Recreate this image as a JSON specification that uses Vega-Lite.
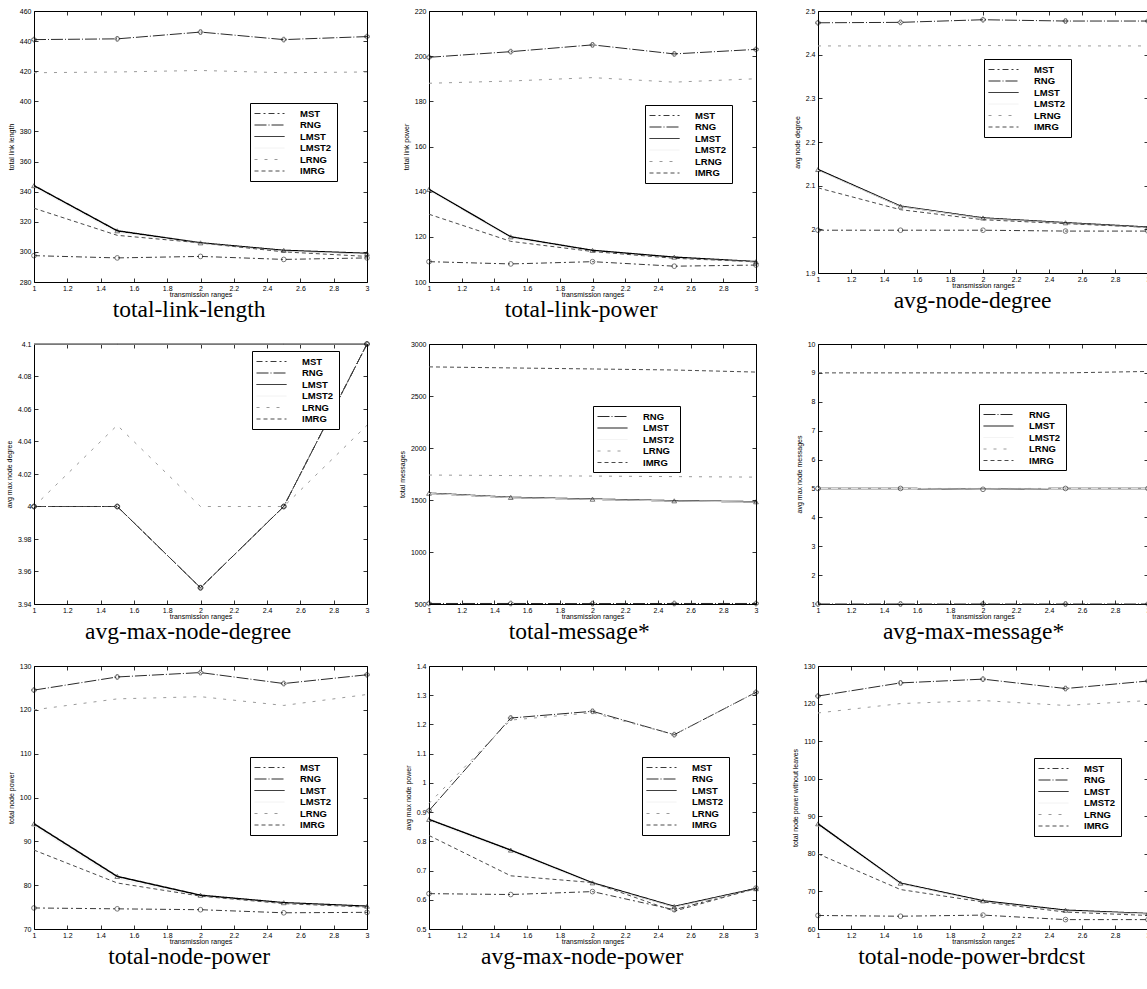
{
"$schema":"https://vega.github.io/schema/vega-lite/v6.json",
"background":"white",
"padding":{"left":4,"top":6,"right":0,"bottom":0},
"config":{
 "font":"Liberation Sans",
 "view":{"stroke":"black","strokeWidth":1},
 "axis":{"grid":false,"domain":false,"tickColor":"black","tickSize":-4,"tickWidth":0.8,"labelFontSize":7,"labelColor":"black","titleFontSize":7,"titleFontWeight":"normal","titleColor":"black","labelPadding":7,"labelOverlap":false,"labelFlush":false,"labelBound":false},
 "axisX":{"titlePadding":-1,"labelPadding":6},
 "axisY":{"titlePadding":5},
 "legend":{"orient":"none","strokeColor":"black","fillColor":"white","padding":5,"labelFont":"Liberation Sans","labelFontSize":9.5,"labelFontWeight":"bold","labelColor":"black","symbolType":"M-1.2,0H4.8","symbolSize":100,"symbolStrokeWidth":1,"rowPadding":1.5,"labelOffset":34,"cornerRadius":0},
 "title":{"orient":"bottom","font":"Liberation Serif","fontSize":23.5,"fontWeight":"normal","color":"black","offset":1,"anchor":"middle","frame":"bounds"}
},
"datasets":{
"p1":[
{"series":"MST","x":1,"y":297.5},{"series":"MST","x":1.5,"y":296},{"series":"MST","x":2,"y":297},{"series":"MST","x":2.5,"y":295},{"series":"MST","x":3,"y":296},
{"series":"RNG","x":1,"y":441},{"series":"RNG","x":1.5,"y":441.5},{"series":"RNG","x":2,"y":446},{"series":"RNG","x":2.5,"y":441},{"series":"RNG","x":3,"y":443},
{"series":"LMST","x":1,"y":344},{"series":"LMST","x":1.5,"y":314},{"series":"LMST","x":2,"y":306},{"series":"LMST","x":2.5,"y":301},{"series":"LMST","x":3,"y":299},
{"series":"LMST2","x":1,"y":343},{"series":"LMST2","x":1.5,"y":313},{"series":"LMST2","x":2,"y":305.5},{"series":"LMST2","x":2.5,"y":300.5},{"series":"LMST2","x":3,"y":298.5},
{"series":"LRNG","x":1,"y":419},{"series":"LRNG","x":1.5,"y":419.5},{"series":"LRNG","x":2,"y":420.5},{"series":"LRNG","x":2.5,"y":419},{"series":"LRNG","x":3,"y":419.5},
{"series":"IMRG","x":1,"y":329},{"series":"IMRG","x":1.5,"y":311},{"series":"IMRG","x":2,"y":306},{"series":"IMRG","x":2.5,"y":300},{"series":"IMRG","x":3,"y":297}
],
"p2":[
{"series":"MST","x":1,"y":109},{"series":"MST","x":1.5,"y":108},{"series":"MST","x":2,"y":109},{"series":"MST","x":2.5,"y":107},{"series":"MST","x":3,"y":107.5},
{"series":"RNG","x":1,"y":199.5},{"series":"RNG","x":1.5,"y":202},{"series":"RNG","x":2,"y":205},{"series":"RNG","x":2.5,"y":201},{"series":"RNG","x":3,"y":203},
{"series":"LMST","x":1,"y":141},{"series":"LMST","x":1.5,"y":120},{"series":"LMST","x":2,"y":114},{"series":"LMST","x":2.5,"y":111},{"series":"LMST","x":3,"y":109},
{"series":"LMST2","x":1,"y":140.5},{"series":"LMST2","x":1.5,"y":119.5},{"series":"LMST2","x":2,"y":113.5},{"series":"LMST2","x":2.5,"y":110.5},{"series":"LMST2","x":3,"y":108.8},
{"series":"LRNG","x":1,"y":188},{"series":"LRNG","x":1.5,"y":189},{"series":"LRNG","x":2,"y":190.5},{"series":"LRNG","x":2.5,"y":188.5},{"series":"LRNG","x":3,"y":190},
{"series":"IMRG","x":1,"y":130},{"series":"IMRG","x":1.5,"y":118},{"series":"IMRG","x":2,"y":113.5},{"series":"IMRG","x":2.5,"y":110.5},{"series":"IMRG","x":3,"y":109}
],
"p3":[
{"series":"MST","x":1,"y":1.998},{"series":"MST","x":1.5,"y":1.998},{"series":"MST","x":2,"y":1.998},{"series":"MST","x":2.5,"y":1.996},{"series":"MST","x":3,"y":1.996},
{"series":"RNG","x":1,"y":2.473},{"series":"RNG","x":1.5,"y":2.474},{"series":"RNG","x":2,"y":2.48},{"series":"RNG","x":2.5,"y":2.477},{"series":"RNG","x":3,"y":2.477},
{"series":"LMST","x":1,"y":2.137},{"series":"LMST","x":1.5,"y":2.053},{"series":"LMST","x":2,"y":2.026},{"series":"LMST","x":2.5,"y":2.015},{"series":"LMST","x":3,"y":2.005},
{"series":"LMST2","x":1,"y":2.135},{"series":"LMST2","x":1.5,"y":2.052},{"series":"LMST2","x":2,"y":2.025},{"series":"LMST2","x":2.5,"y":2.014},{"series":"LMST2","x":3,"y":2.004},
{"series":"LRNG","x":1,"y":2.42},{"series":"LRNG","x":1.5,"y":2.42},{"series":"LRNG","x":2,"y":2.421},{"series":"LRNG","x":2.5,"y":2.42},{"series":"LRNG","x":3,"y":2.42},
{"series":"IMRG","x":1,"y":2.095},{"series":"IMRG","x":1.5,"y":2.045},{"series":"IMRG","x":2,"y":2.022},{"series":"IMRG","x":2.5,"y":2.013},{"series":"IMRG","x":3,"y":2.005}
],
"p4":[
{"series":"MST","x":1,"y":4},{"series":"MST","x":1.5,"y":4},{"series":"MST","x":2,"y":3.95},{"series":"MST","x":2.5,"y":4},{"series":"MST","x":3,"y":4.1},
{"series":"RNG","x":1,"y":4},{"series":"RNG","x":1.5,"y":4},{"series":"RNG","x":2,"y":3.95},{"series":"RNG","x":2.5,"y":4},{"series":"RNG","x":3,"y":4.1},
{"series":"LMST","x":1,"y":4.1},{"series":"LMST","x":1.5,"y":4.1},{"series":"LMST","x":2,"y":4.1},{"series":"LMST","x":2.5,"y":4.1},{"series":"LMST","x":3,"y":4.1},
{"series":"LMST2","x":1,"y":4.1},{"series":"LMST2","x":1.5,"y":4.1},{"series":"LMST2","x":2,"y":4.1},{"series":"LMST2","x":2.5,"y":4.1},{"series":"LMST2","x":3,"y":4.1},
{"series":"LRNG","x":1,"y":4},{"series":"LRNG","x":1.5,"y":4.05},{"series":"LRNG","x":2,"y":4},{"series":"LRNG","x":2.5,"y":4},{"series":"LRNG","x":3,"y":4.05},
{"series":"IMRG","x":1,"y":4},{"series":"IMRG","x":1.5,"y":4},{"series":"IMRG","x":2,"y":3.95},{"series":"IMRG","x":2.5,"y":4},{"series":"IMRG","x":3,"y":4.1}
],
"p5":[
{"series":"RNG","x":1,"y":505},{"series":"RNG","x":1.5,"y":505},{"series":"RNG","x":2,"y":504},{"series":"RNG","x":2.5,"y":505},{"series":"RNG","x":3,"y":505},
{"series":"LMST","x":1,"y":1565},{"series":"LMST","x":1.5,"y":1525},{"series":"LMST","x":2,"y":1508},{"series":"LMST","x":2.5,"y":1492},{"series":"LMST","x":3,"y":1483},
{"series":"LMST2","x":1,"y":1563},{"series":"LMST2","x":1.5,"y":1523},{"series":"LMST2","x":2,"y":1506},{"series":"LMST2","x":2.5,"y":1490},{"series":"LMST2","x":3,"y":1481},
{"series":"LRNG","x":1,"y":1740},{"series":"LRNG","x":1.5,"y":1735},{"series":"LRNG","x":2,"y":1730},{"series":"LRNG","x":2.5,"y":1725},{"series":"LRNG","x":3,"y":1720},
{"series":"IMRG","x":1,"y":2780},{"series":"IMRG","x":1.5,"y":2770},{"series":"IMRG","x":2,"y":2760},{"series":"IMRG","x":2.5,"y":2750},{"series":"IMRG","x":3,"y":2730}
],
"p6":[
{"series":"RNG","x":1,"y":1},{"series":"RNG","x":1.5,"y":1},{"series":"RNG","x":2,"y":1},{"series":"RNG","x":2.5,"y":1},{"series":"RNG","x":3,"y":1},
{"series":"LMST","x":1,"y":5},{"series":"LMST","x":1.5,"y":5},{"series":"LMST","x":2,"y":4.97},{"series":"LMST","x":2.5,"y":5},{"series":"LMST","x":3,"y":5},
{"series":"LMST2","x":1,"y":5},{"series":"LMST2","x":1.5,"y":5},{"series":"LMST2","x":2,"y":4.97},{"series":"LMST2","x":2.5,"y":5},{"series":"LMST2","x":3,"y":5},
{"series":"LRNG","x":1,"y":5},{"series":"LRNG","x":1.5,"y":5},{"series":"LRNG","x":2,"y":5},{"series":"LRNG","x":2.5,"y":5},{"series":"LRNG","x":3,"y":5},
{"series":"IMRG","x":1,"y":9},{"series":"IMRG","x":1.5,"y":9},{"series":"IMRG","x":2,"y":9},{"series":"IMRG","x":2.5,"y":9},{"series":"IMRG","x":3,"y":9.05}
],
"p7":[
{"series":"MST","x":1,"y":74.8},{"series":"MST","x":1.5,"y":74.6},{"series":"MST","x":2,"y":74.4},{"series":"MST","x":2.5,"y":73.7},{"series":"MST","x":3,"y":73.8},
{"series":"RNG","x":1,"y":124.5},{"series":"RNG","x":1.5,"y":127.5},{"series":"RNG","x":2,"y":128.5},{"series":"RNG","x":2.5,"y":126},{"series":"RNG","x":3,"y":128},
{"series":"LMST","x":1,"y":94},{"series":"LMST","x":1.5,"y":82},{"series":"LMST","x":2,"y":77.7},{"series":"LMST","x":2.5,"y":76},{"series":"LMST","x":3,"y":75.2},
{"series":"LMST2","x":1,"y":93.5},{"series":"LMST2","x":1.5,"y":81.5},{"series":"LMST2","x":2,"y":77.4},{"series":"LMST2","x":2.5,"y":75.8},{"series":"LMST2","x":3,"y":75},
{"series":"LRNG","x":1,"y":120},{"series":"LRNG","x":1.5,"y":122.5},{"series":"LRNG","x":2,"y":123},{"series":"LRNG","x":2.5,"y":121},{"series":"LRNG","x":3,"y":123.5},
{"series":"IMRG","x":1,"y":88},{"series":"IMRG","x":1.5,"y":80.5},{"series":"IMRG","x":2,"y":77.5},{"series":"IMRG","x":2.5,"y":75.8},{"series":"IMRG","x":3,"y":75}
],
"p8":[
{"series":"MST","x":1,"y":0.621},{"series":"MST","x":1.5,"y":0.618},{"series":"MST","x":2,"y":0.628},{"series":"MST","x":2.5,"y":0.566},{"series":"MST","x":3,"y":0.64},
{"series":"RNG","x":1,"y":0.905},{"series":"RNG","x":1.5,"y":1.222},{"series":"RNG","x":2,"y":1.245},{"series":"RNG","x":2.5,"y":1.165},{"series":"RNG","x":3,"y":1.31},
{"series":"LMST","x":1,"y":0.875},{"series":"LMST","x":1.5,"y":0.77},{"series":"LMST","x":2,"y":0.658},{"series":"LMST","x":2.5,"y":0.577},{"series":"LMST","x":3,"y":0.638},
{"series":"LMST2","x":1,"y":0.87},{"series":"LMST2","x":1.5,"y":0.765},{"series":"LMST2","x":2,"y":0.655},{"series":"LMST2","x":2.5,"y":0.575},{"series":"LMST2","x":3,"y":0.636},
{"series":"LRNG","x":1,"y":0.93},{"series":"LRNG","x":1.5,"y":1.215},{"series":"LRNG","x":2,"y":1.24},{"series":"LRNG","x":2.5,"y":1.165},{"series":"LRNG","x":3,"y":1.31},
{"series":"IMRG","x":1,"y":0.82},{"series":"IMRG","x":1.5,"y":0.682},{"series":"IMRG","x":2,"y":0.659},{"series":"IMRG","x":2.5,"y":0.561},{"series":"IMRG","x":3,"y":0.639}
],
"p9":[
{"series":"MST","x":1,"y":63.6},{"series":"MST","x":1.5,"y":63.4},{"series":"MST","x":2,"y":63.7},{"series":"MST","x":2.5,"y":62.5},{"series":"MST","x":3,"y":62.5},
{"series":"RNG","x":1,"y":122},{"series":"RNG","x":1.5,"y":125.5},{"series":"RNG","x":2,"y":126.5},{"series":"RNG","x":2.5,"y":124},{"series":"RNG","x":3,"y":126},
{"series":"LMST","x":1,"y":88},{"series":"LMST","x":1.5,"y":72.2},{"series":"LMST","x":2,"y":67.5},{"series":"LMST","x":2.5,"y":65},{"series":"LMST","x":3,"y":64.1},
{"series":"LMST2","x":1,"y":87.5},{"series":"LMST2","x":1.5,"y":72},{"series":"LMST2","x":2,"y":67.3},{"series":"LMST2","x":2.5,"y":64.8},{"series":"LMST2","x":3,"y":64},
{"series":"LRNG","x":1,"y":117.5},{"series":"LRNG","x":1.5,"y":120},{"series":"LRNG","x":2,"y":120.8},{"series":"LRNG","x":2.5,"y":119.5},{"series":"LRNG","x":3,"y":120.8},
{"series":"IMRG","x":1,"y":80},{"series":"IMRG","x":1.5,"y":70.5},{"series":"IMRG","x":2,"y":67.2},{"series":"IMRG","x":2.5,"y":64.5},{"series":"IMRG","x":3,"y":63.6}
]
},
"columns":3,
"spacing":{"row":62,"column":62},
"bounds":"flush",
"resolve":{"scale":{"color":"independent","strokeDash":"independent","shape":"independent"},"legend":{"color":"independent","strokeDash":"independent","shape":"independent"}},
"concat":[
{"width":333,"height":271,"data":{"name":"p1"},"title":"total-link-length","resolve":{"axis":{"x":"independent","y":"independent"}},
 "layer":[
  {"mark":{"type":"line"},"encoding":{
   "x":{"field":"x","type":"quantitative","scale":{"domain":[1,3],"nice":false,"zero":false},"axis":{"values":[1,1.2,1.4,1.6,1.8,2,2.2,2.4,2.6,2.8,3],"format":".4~r","title":"transmission ranges"}},
   "y":{"field":"y","type":"quantitative","scale":{"domain":[280,460],"nice":false,"zero":false},"axis":{"values":[280,300,320,340,360,380,400,420,440,460],"format":".4~r","title":"total link length"}},
   "color":{"field":"series","type":"nominal","scale":{"domain":["MST","RNG","LMST","LMST2","LRNG","IMRG"],"range":["#3a3a3a","#2a2a2a","#000000","#f0f0f0","#9a9a9a","#4a4a4a"]},"legend":{"title":null,"legendX":216,"legendY":92}},
   "strokeDash":{"field":"series","type":"nominal","scale":{"domain":["MST","RNG","LMST","LMST2","LRNG","IMRG"],"range":[[6,3,2,3],[12,2,1,2],[1,0],[1,0],[3,7],[4,3]]},"legend":{"title":null,"legendX":216,"legendY":92}},
   "strokeWidth":{"condition":{"test":"datum.series==='LMST'","value":1.5},"value":1}}},
  {"transform":[{"filter":{"field":"series","oneOf":["MST","RNG","LMST"]}}],"mark":{"type":"point","filled":false,"size":22,"strokeWidth":0.8,"color":"#111"},"encoding":{
   "x":{"field":"x","type":"quantitative","scale":{"domain":[1,3],"nice":false,"zero":false},"axis":{"values":[1,1.2,1.4,1.6,1.8,2,2.2,2.4,2.6,2.8,3],"orient":"top","labels":false,"title":null}},
   "y":{"field":"y","type":"quantitative","scale":{"domain":[280,460],"nice":false,"zero":false},"axis":{"values":[280,300,320,340,360,380,400,420,440,460],"orient":"right","labels":false,"title":null}},
   "shape":{"field":"series","type":"nominal","scale":{"domain":["MST","RNG","LMST"],"range":["circle","cross","triangle-up"]},"legend":null}}}
 ]},
{"width":327,"height":271,"data":{"name":"p2"},"title":"total-link-power","resolve":{"axis":{"x":"independent","y":"independent"}},
 "layer":[
  {"mark":{"type":"line"},"encoding":{
   "x":{"field":"x","type":"quantitative","scale":{"domain":[1,3],"nice":false,"zero":false},"axis":{"values":[1,1.2,1.4,1.6,1.8,2,2.2,2.4,2.6,2.8,3],"format":".4~r","title":"transmission ranges"}},
   "y":{"field":"y","type":"quantitative","scale":{"domain":[100,220],"nice":false,"zero":false},"axis":{"values":[100,120,140,160,180,200,220],"format":".4~r","title":"total link power"}},
   "color":{"field":"series","type":"nominal","scale":{"domain":["MST","RNG","LMST","LMST2","LRNG","IMRG"],"range":["#3a3a3a","#2a2a2a","#000000","#f0f0f0","#9a9a9a","#4a4a4a"]},"legend":{"title":null,"legendX":216,"legendY":94}},
   "strokeDash":{"field":"series","type":"nominal","scale":{"domain":["MST","RNG","LMST","LMST2","LRNG","IMRG"],"range":[[6,3,2,3],[12,2,1,2],[1,0],[1,0],[3,7],[4,3]]},"legend":{"title":null,"legendX":216,"legendY":94}},
   "strokeWidth":{"condition":{"test":"datum.series==='LMST'","value":1.5},"value":1}}},
  {"transform":[{"filter":{"field":"series","oneOf":["MST","RNG","LMST"]}}],"mark":{"type":"point","filled":false,"size":22,"strokeWidth":0.8,"color":"#111"},"encoding":{
   "x":{"field":"x","type":"quantitative","scale":{"domain":[1,3],"nice":false,"zero":false},"axis":{"values":[1,1.2,1.4,1.6,1.8,2,2.2,2.4,2.6,2.8,3],"orient":"top","labels":false,"title":null}},
   "y":{"field":"y","type":"quantitative","scale":{"domain":[100,220],"nice":false,"zero":false},"axis":{"values":[100,120,140,160,180,200,220],"orient":"right","labels":false,"title":null}},
   "shape":{"field":"series","type":"nominal","scale":{"domain":["MST","RNG","LMST"],"range":["circle","cross","triangle-up"]},"legend":null}}}
 ]},
{"width":330,"height":262,"data":{"name":"p3"},"title":"avg-node-degree","resolve":{"axis":{"x":"independent","y":"independent"}},
 "layer":[
  {"mark":{"type":"line"},"encoding":{
   "x":{"field":"x","type":"quantitative","scale":{"domain":[1,3],"nice":false,"zero":false},"axis":{"values":[1,1.2,1.4,1.6,1.8,2,2.2,2.4,2.6,2.8,3],"format":".4~r","title":"transmission ranges"}},
   "y":{"field":"y","type":"quantitative","scale":{"domain":[1.9,2.5],"nice":false,"zero":false},"axis":{"values":[1.9,2,2.1,2.2,2.3,2.4,2.5],"format":".4~r","title":"avg node degree"}},
   "color":{"field":"series","type":"nominal","scale":{"domain":["MST","RNG","LMST","LMST2","LRNG","IMRG"],"range":["#3a3a3a","#2a2a2a","#000000","#f0f0f0","#9a9a9a","#4a4a4a"]},"legend":{"title":null,"legendX":166,"legendY":48}},
   "strokeDash":{"field":"series","type":"nominal","scale":{"domain":["MST","RNG","LMST","LMST2","LRNG","IMRG"],"range":[[6,3,2,3],[12,2,1,2],[1,0],[1,0],[3,7],[4,3]]},"legend":{"title":null,"legendX":166,"legendY":48}},
   "strokeWidth":{"condition":{"test":"datum.series==='LMST'","value":1.5},"value":1}}},
  {"transform":[{"filter":{"field":"series","oneOf":["MST","RNG","LMST"]}}],"mark":{"type":"point","filled":false,"size":22,"strokeWidth":0.8,"color":"#111"},"encoding":{
   "x":{"field":"x","type":"quantitative","scale":{"domain":[1,3],"nice":false,"zero":false},"axis":{"values":[1,1.2,1.4,1.6,1.8,2,2.2,2.4,2.6,2.8,3],"orient":"top","labels":false,"title":null}},
   "y":{"field":"y","type":"quantitative","scale":{"domain":[1.9,2.5],"nice":false,"zero":false},"axis":{"values":[1.9,2,2.1,2.2,2.3,2.4,2.5],"orient":"right","labels":false,"title":null}},
   "shape":{"field":"series","type":"nominal","scale":{"domain":["MST","RNG","LMST"],"range":["circle","cross","triangle-up"]},"legend":null}}}
 ]},
{"width":333,"height":260,"data":{"name":"p4"},"title":"avg-max-node-degree","resolve":{"axis":{"x":"independent","y":"independent"}},
 "layer":[
  {"mark":{"type":"line"},"encoding":{
   "x":{"field":"x","type":"quantitative","scale":{"domain":[1,3],"nice":false,"zero":false},"axis":{"values":[1,1.2,1.4,1.6,1.8,2,2.2,2.4,2.6,2.8,3],"format":".4~r","title":"transmission ranges"}},
   "y":{"field":"y","type":"quantitative","scale":{"domain":[3.94,4.1],"nice":false,"zero":false},"axis":{"values":[3.94,3.96,3.98,4,4.02,4.04,4.06,4.08,4.1],"format":".4~r","title":"avg max node degree"}},
   "color":{"field":"series","type":"nominal","scale":{"domain":["MST","RNG","LMST","LMST2","LRNG","IMRG"],"range":["#3a3a3a","#2a2a2a","#000000","#f0f0f0","#9a9a9a","#4a4a4a"]},"legend":{"title":null,"legendX":218,"legendY":7}},
   "strokeDash":{"field":"series","type":"nominal","scale":{"domain":["MST","RNG","LMST","LMST2","LRNG","IMRG"],"range":[[6,3,2,3],[12,2,1,2],[1,0],[1,0],[3,7],[4,3]]},"legend":{"title":null,"legendX":218,"legendY":7}},
   "strokeWidth":{"condition":{"test":"datum.series==='LMST'","value":1.5},"value":1}}},
  {"transform":[{"filter":{"field":"series","oneOf":["MST","RNG"]}}],"mark":{"type":"point","filled":false,"size":22,"strokeWidth":0.8,"color":"#111"},"encoding":{
   "x":{"field":"x","type":"quantitative","scale":{"domain":[1,3],"nice":false,"zero":false},"axis":{"values":[1,1.2,1.4,1.6,1.8,2,2.2,2.4,2.6,2.8,3],"orient":"top","labels":false,"title":null}},
   "y":{"field":"y","type":"quantitative","scale":{"domain":[3.94,4.1],"nice":false,"zero":false},"axis":{"values":[3.94,3.96,3.98,4,4.02,4.04,4.06,4.08,4.1],"orient":"right","labels":false,"title":null}},
   "shape":{"field":"series","type":"nominal","scale":{"domain":["MST","RNG","LMST"],"range":["circle","cross","triangle-up"]},"legend":null}}}
 ]},
{"width":327,"height":260,"data":{"name":"p5"},"title":"total-message*","resolve":{"axis":{"x":"independent","y":"independent"}},
 "layer":[
  {"mark":{"type":"line"},"encoding":{
   "x":{"field":"x","type":"quantitative","scale":{"domain":[1,3],"nice":false,"zero":false},"axis":{"values":[1,1.2,1.4,1.6,1.8,2,2.2,2.4,2.6,2.8,3],"format":".4~r","title":"transmission ranges"}},
   "y":{"field":"y","type":"quantitative","scale":{"domain":[500,3000],"nice":false,"zero":false},"axis":{"values":[500,1000,1500,2000,2500,3000],"format":".4~r","title":"total messages"}},
   "color":{"field":"series","type":"nominal","scale":{"domain":["RNG","LMST","LMST2","LRNG","IMRG"],"range":["#2a2a2a","#000000","#f0f0f0","#9a9a9a","#4a4a4a"]},"legend":{"title":null,"legendX":164,"legendY":62}},
   "strokeDash":{"field":"series","type":"nominal","scale":{"domain":["RNG","LMST","LMST2","LRNG","IMRG"],"range":[[12,2,1,2],[1,0],[1,0],[3,7],[4,3]]},"legend":{"title":null,"legendX":164,"legendY":62}},
   "strokeWidth":{"condition":{"test":"datum.series==='LMST'","value":1.5},"value":1}}},
  {"transform":[{"filter":{"field":"series","oneOf":["RNG","LMST"]}}],"mark":{"type":"point","filled":false,"size":22,"strokeWidth":0.8,"color":"#111"},"encoding":{
   "x":{"field":"x","type":"quantitative","scale":{"domain":[1,3],"nice":false,"zero":false},"axis":{"values":[1,1.2,1.4,1.6,1.8,2,2.2,2.4,2.6,2.8,3],"orient":"top","labels":false,"title":null}},
   "y":{"field":"y","type":"quantitative","scale":{"domain":[500,3000],"nice":false,"zero":false},"axis":{"values":[500,1000,1500,2000,2500,3000],"orient":"right","labels":false,"title":null}},
   "shape":{"field":"series","type":"nominal","scale":{"domain":["RNG","LMST"],"range":["cross","triangle-up"]},"legend":null}}}
 ]},
{"width":330,"height":260,"data":{"name":"p6"},"title":"avg-max-message*","resolve":{"axis":{"x":"independent","y":"independent"}},
 "layer":[
  {"mark":{"type":"line"},"encoding":{
   "x":{"field":"x","type":"quantitative","scale":{"domain":[1,3],"nice":false,"zero":false},"axis":{"values":[1,1.2,1.4,1.6,1.8,2,2.2,2.4,2.6,2.8,3],"format":".4~r","title":"transmission ranges"}},
   "y":{"field":"y","type":"quantitative","scale":{"domain":[1,10],"nice":false,"zero":false},"axis":{"values":[1,2,3,4,5,6,7,8,9,10],"format":".4~r","title":"avg max node messages"}},
   "color":{"field":"series","type":"nominal","scale":{"domain":["RNG","LMST","LMST2","LRNG","IMRG"],"range":["#2a2a2a","#000000","#f0f0f0","#9a9a9a","#4a4a4a"]},"legend":{"title":null,"legendX":161,"legendY":60}},
   "strokeDash":{"field":"series","type":"nominal","scale":{"domain":["RNG","LMST","LMST2","LRNG","IMRG"],"range":[[12,2,1,2],[1,0],[1,0],[3,7],[4,3]]},"legend":{"title":null,"legendX":161,"legendY":60}},
   "strokeWidth":{"condition":{"test":"datum.series==='LMST'","value":1.5},"value":1}}},
  {"transform":[{"filter":{"field":"series","oneOf":["RNG","LMST"]}}],"mark":{"type":"point","filled":false,"size":22,"strokeWidth":0.8,"color":"#111"},"encoding":{
   "x":{"field":"x","type":"quantitative","scale":{"domain":[1,3],"nice":false,"zero":false},"axis":{"values":[1,1.2,1.4,1.6,1.8,2,2.2,2.4,2.6,2.8,3],"orient":"top","labels":false,"title":null}},
   "y":{"field":"y","type":"quantitative","scale":{"domain":[1,10],"nice":false,"zero":false},"axis":{"values":[1,2,3,4,5,6,7,8,9,10],"orient":"right","labels":false,"title":null}},
   "shape":{"field":"series","type":"nominal","scale":{"domain":["RNG","LMST"],"range":["cross","circle"]},"legend":null}}}
 ]},
{"width":333,"height":263,"data":{"name":"p7"},"title":"total-node-power","resolve":{"axis":{"x":"independent","y":"independent"}},
 "layer":[
  {"mark":{"type":"line"},"encoding":{
   "x":{"field":"x","type":"quantitative","scale":{"domain":[1,3],"nice":false,"zero":false},"axis":{"values":[1,1.2,1.4,1.6,1.8,2,2.2,2.4,2.6,2.8,3],"format":".4~r","title":"transmission ranges"}},
   "y":{"field":"y","type":"quantitative","scale":{"domain":[70,130],"nice":false,"zero":false},"axis":{"values":[70,80,90,100,110,120,130],"format":".4~r","title":"total node power"}},
   "color":{"field":"series","type":"nominal","scale":{"domain":["MST","RNG","LMST","LMST2","LRNG","IMRG"],"range":["#3a3a3a","#2a2a2a","#000000","#f0f0f0","#9a9a9a","#4a4a4a"]},"legend":{"title":null,"legendX":216,"legendY":91}},
   "strokeDash":{"field":"series","type":"nominal","scale":{"domain":["MST","RNG","LMST","LMST2","LRNG","IMRG"],"range":[[6,3,2,3],[12,2,1,2],[1,0],[1,0],[3,7],[4,3]]},"legend":{"title":null,"legendX":216,"legendY":91}},
   "strokeWidth":{"condition":{"test":"datum.series==='LMST'","value":1.5},"value":1}}},
  {"transform":[{"filter":{"field":"series","oneOf":["MST","RNG","LMST"]}}],"mark":{"type":"point","filled":false,"size":22,"strokeWidth":0.8,"color":"#111"},"encoding":{
   "x":{"field":"x","type":"quantitative","scale":{"domain":[1,3],"nice":false,"zero":false},"axis":{"values":[1,1.2,1.4,1.6,1.8,2,2.2,2.4,2.6,2.8,3],"orient":"top","labels":false,"title":null}},
   "y":{"field":"y","type":"quantitative","scale":{"domain":[70,130],"nice":false,"zero":false},"axis":{"values":[70,80,90,100,110,120,130],"orient":"right","labels":false,"title":null}},
   "shape":{"field":"series","type":"nominal","scale":{"domain":["MST","RNG","LMST"],"range":["circle","cross","triangle-up"]},"legend":null}}}
 ]},
{"width":327,"height":263,"data":{"name":"p8"},"title":"avg-max-node-power","resolve":{"axis":{"x":"independent","y":"independent"}},
 "layer":[
  {"mark":{"type":"line"},"encoding":{
   "x":{"field":"x","type":"quantitative","scale":{"domain":[1,3],"nice":false,"zero":false},"axis":{"values":[1,1.2,1.4,1.6,1.8,2,2.2,2.4,2.6,2.8,3],"format":".4~r","title":"transmission ranges"}},
   "y":{"field":"y","type":"quantitative","scale":{"domain":[0.5,1.4],"nice":false,"zero":false},"axis":{"values":[0.5,0.6,0.7,0.8,0.9,1,1.1,1.2,1.3,1.4],"format":".4~r","title":"avg max node power"}},
   "color":{"field":"series","type":"nominal","scale":{"domain":["MST","RNG","LMST","LMST2","LRNG","IMRG"],"range":["#3a3a3a","#2a2a2a","#000000","#f0f0f0","#9a9a9a","#4a4a4a"]},"legend":{"title":null,"legendX":213,"legendY":91}},
   "strokeDash":{"field":"series","type":"nominal","scale":{"domain":["MST","RNG","LMST","LMST2","LRNG","IMRG"],"range":[[6,3,2,3],[12,2,1,2],[1,0],[1,0],[3,7],[4,3]]},"legend":{"title":null,"legendX":213,"legendY":91}},
   "strokeWidth":{"condition":{"test":"datum.series==='LMST'","value":1.5},"value":1}}},
  {"transform":[{"filter":{"field":"series","oneOf":["MST","RNG","LMST"]}}],"mark":{"type":"point","filled":false,"size":22,"strokeWidth":0.8,"color":"#111"},"encoding":{
   "x":{"field":"x","type":"quantitative","scale":{"domain":[1,3],"nice":false,"zero":false},"axis":{"values":[1,1.2,1.4,1.6,1.8,2,2.2,2.4,2.6,2.8,3],"orient":"top","labels":false,"title":null}},
   "y":{"field":"y","type":"quantitative","scale":{"domain":[0.5,1.4],"nice":false,"zero":false},"axis":{"values":[0.5,0.6,0.7,0.8,0.9,1,1.1,1.2,1.3,1.4],"orient":"right","labels":false,"title":null}},
   "shape":{"field":"series","type":"nominal","scale":{"domain":["MST","RNG","LMST"],"range":["circle","cross","triangle-up"]},"legend":null}}}
 ]},
{"width":330,"height":263,"data":{"name":"p9"},"title":"total-node-power-brdcst","resolve":{"axis":{"x":"independent","y":"independent"}},
 "layer":[
  {"mark":{"type":"line"},"encoding":{
   "x":{"field":"x","type":"quantitative","scale":{"domain":[1,3],"nice":false,"zero":false},"axis":{"values":[1,1.2,1.4,1.6,1.8,2,2.2,2.4,2.6,2.8,3],"format":".4~r","title":"transmission ranges"}},
   "y":{"field":"y","type":"quantitative","scale":{"domain":[60,130],"nice":false,"zero":false},"axis":{"values":[60,70,80,90,100,110,120,130],"format":".4~r","title":"total node power without leaves"}},
   "color":{"field":"series","type":"nominal","scale":{"domain":["MST","RNG","LMST","LMST2","LRNG","IMRG"],"range":["#3a3a3a","#2a2a2a","#000000","#f0f0f0","#9a9a9a","#4a4a4a"]},"legend":{"title":null,"legendX":216,"legendY":92}},
   "strokeDash":{"field":"series","type":"nominal","scale":{"domain":["MST","RNG","LMST","LMST2","LRNG","IMRG"],"range":[[6,3,2,3],[12,2,1,2],[1,0],[1,0],[3,7],[4,3]]},"legend":{"title":null,"legendX":216,"legendY":92}},
   "strokeWidth":{"condition":{"test":"datum.series==='LMST'","value":1.5},"value":1}}},
  {"transform":[{"filter":{"field":"series","oneOf":["MST","RNG","LMST"]}}],"mark":{"type":"point","filled":false,"size":22,"strokeWidth":0.8,"color":"#111"},"encoding":{
   "x":{"field":"x","type":"quantitative","scale":{"domain":[1,3],"nice":false,"zero":false},"axis":{"values":[1,1.2,1.4,1.6,1.8,2,2.2,2.4,2.6,2.8,3],"orient":"top","labels":false,"title":null}},
   "y":{"field":"y","type":"quantitative","scale":{"domain":[60,130],"nice":false,"zero":false},"axis":{"values":[60,70,80,90,100,110,120,130],"orient":"right","labels":false,"title":null}},
   "shape":{"field":"series","type":"nominal","scale":{"domain":["MST","RNG","LMST"],"range":["circle","cross","triangle-up"]},"legend":null}}}
 ]}
]
}
